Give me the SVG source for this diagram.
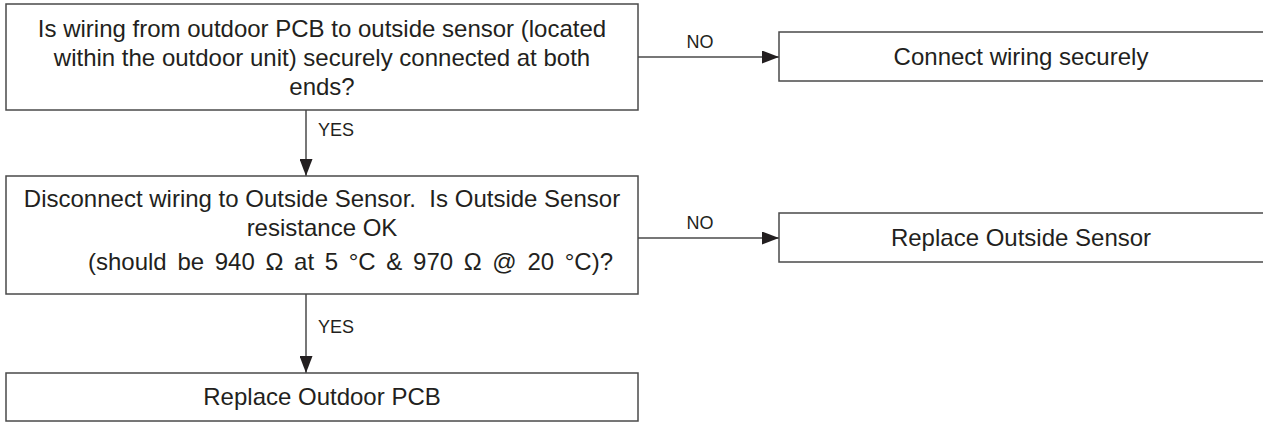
<svg xmlns="http://www.w3.org/2000/svg" width="1263" height="422" viewBox="0 0 1263 422">
<style>
.box{fill:#fff;stroke:#4a4a4a;stroke-width:1.5}
.t{font-family:"Liberation Sans",Arial,sans-serif;font-size:24px;fill:#231f20;text-anchor:middle}
.lbl{font-family:"Liberation Sans",Arial,sans-serif;font-size:18px;fill:#231f20}
.c{stroke:#4a4a4a;stroke-width:1.5;fill:none;marker-end:url(#ah)}
</style>
<defs>
<marker id="ah" markerUnits="userSpaceOnUse" markerWidth="18" markerHeight="13" refX="17" refY="6.5" orient="auto">
<path d="M0,0 L17,6.5 L0,13 Z" fill="#231f20"/>
</marker>
</defs>
<rect width="1263" height="422" fill="#fff"/>
<g id="connectors">
<line class="c" x1="638" y1="57" x2="779" y2="57"/>
<text class="lbl" x="700" y="48" text-anchor="middle">NO</text>
<line class="c" x1="306" y1="110" x2="306" y2="176"/>
<text class="lbl" x="318" y="136">YES</text>
<line class="c" x1="638" y1="238" x2="779" y2="238"/>
<text class="lbl" x="700" y="229" text-anchor="middle">NO</text>
<line class="c" x1="306" y1="294" x2="306" y2="373"/>
<text class="lbl" x="318" y="333">YES</text>
</g>
<g id="q1">
<rect class="box" x="6" y="4" width="632" height="106"/>
<text class="t" x="322" y="37">Is wiring from outdoor PCB to outside sensor (located</text>
<text class="t" x="322" y="66">within the outdoor unit) securely connected at both</text>
<text class="t" x="322" y="95">ends?</text>
</g>
<g id="a1">
<rect class="box" x="779" y="32" width="486" height="49"/>
<text class="t" x="1021" y="65">Connect wiring securely</text>
</g>
<g id="q2">
<rect class="box" x="6" y="176" width="632" height="118"/>
<text class="t" x="322" y="207" xml:space="preserve">Disconnect wiring to Outside Sensor.  Is Outside Sensor</text>
<text class="t" x="322" y="236">resistance OK</text>
<text class="t" x="88" y="270" style="text-anchor:start;word-spacing:4px">(should be 940 Ω at 5 °C &amp; 970 Ω @ 20 °C)?</text>
</g>
<g id="a2">
<rect class="box" x="779" y="213" width="486" height="49"/>
<text class="t" x="1021" y="246">Replace Outside Sensor</text>
</g>
<g id="a3">
<rect class="box" x="6" y="373" width="632" height="48"/>
<text class="t" x="322" y="405">Replace Outdoor PCB</text>
</g>
</svg>
